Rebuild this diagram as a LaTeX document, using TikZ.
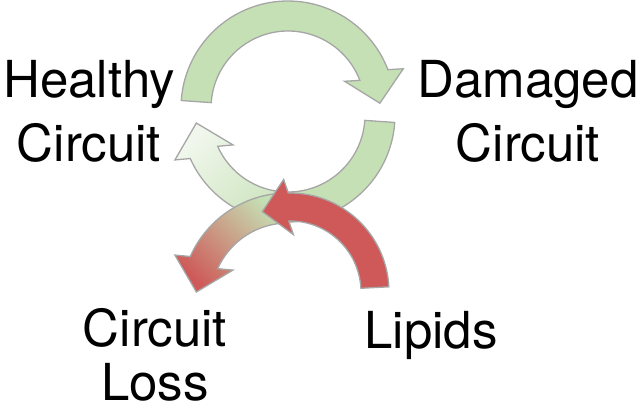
\documentclass[tikz,border=0pt]{standalone}
\usepackage{fontspec}
\setmainfont{TeX Gyre Heros}
\usepackage{tikz}
\usetikzlibrary{calc}
\definecolor{leafgreen}{RGB}{197,224,180}
\definecolor{palegreen}{RGB}{241,247,237}
\definecolor{lipidred}{RGB}{206,89,88}
\definecolor{rimgray}{RGB}{166,166,166}
% curved band with a straight head: style, centre, radius, half width, start, end, tip, side
\newcommand{\bentarrow}[8]{%
  \coordinate (hb) at ($(#2)+(#6:#3)$);
  \coordinate (ht) at ($(#2)+(#7:#3)$);
  \path[#1] ($(#2)+({#5}:{#3+#4})$) arc[start angle=#5,end angle=#6,radius=#3+#4]
    -- ($(hb)!2*#4pt!#8:(ht)$) -- (ht) -- ($(hb)!2*#4pt!#8+180:(ht)$)
    -- ($(#2)+({#6}:{#3-#4})$) arc[start angle=#6,end angle=#5,radius=#3-#4] -- cycle;}

\begin{document}
\begin{tikzpicture}[
  x=1pt,y=1pt,
  band/.style={draw=rimgray,line width=1.3pt},
  lbl/.style={anchor=base,align=center,inner sep=0pt,
    font=\fontsize{51}{64}\selectfont},
]
\useasboundingbox (0,0) rectangle (640,-412);
\coordinate (upper) at (288,-108);
\coordinate (mid) at (288,-115);
\coordinate (lower) at (288,-300);
\coordinate (lipc) at (290,-292);
% cycle arrows
\bentarrow{band,fill=leafgreen}{upper}{92}{15}{176}{21}{3}{90}
\bentarrow{band,top color=palegreen,bottom color=leafgreen!85!white,shading angle=45}{mid}{92}{15}{268}{204}{185}{90}
\path[band,fill=leafgreen] ($(mid)+(-4:107)$) arc[start angle=-4,end angle=-94,radius=107]
  -- ($(mid)+(-94:77)$) arc[start angle=-94,end angle=-4,radius=77] -- cycle;
\bentarrow{band,top color=leafgreen,bottom color=lipidred,shading angle=-45}{lower}{92}{15}{90}{156}{175}{-90}
\bentarrow{band,fill=lipidred}{lipc}{85}{14}{3}{91}{109}{-90}
% labels (base = last line)
\node[lbl] (healthy) at (89,-161) {Healthy\\Circuit};
\node[lbl] (damaged) at (528,-161) {Damaged\\Circuit};
\node[lbl,font=\fontsize{51}{54}\selectfont] (loss) at (155,-400) {Circuit\\Loss};
\node[lbl] (lipids) at (431,-348) {Lipids};
\end{tikzpicture}
\end{document}
